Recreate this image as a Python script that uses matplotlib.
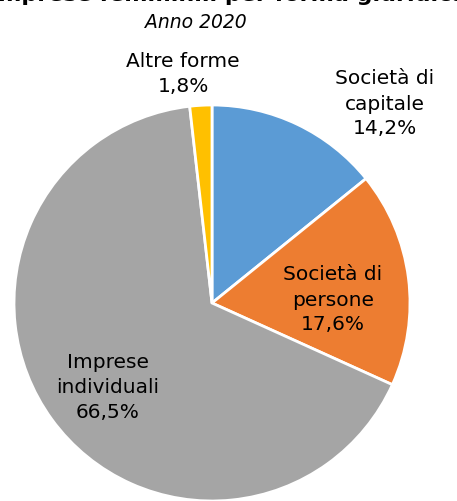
"""
Pie chart: imprese femminili per forma giuridica, anno 2020.
"""

import matplotlib.pyplot as plt

# Data
categorie = ["Società di\ncapitale", "Società di\npersone",
             "Imprese\nindividuali", "Altre forme"]
quote = [14.2, 17.6, 66.5, 1.8]
colori = ["#5B9BD5", "#ED7D31", "#A5A5A5", "#FFC000"]


def fmt(v):
    return f"{v:.1f}%".replace(".", ",")


def main():
    W, H = 457, 502
    fig = plt.figure(figsize=(W / 100, H / 100), dpi=100)
    ax = fig.add_axes([0, 0, 1, 1])

    # Pie (pixel space, y measured from bottom)
    ax.pie(quote, colors=colori, startangle=90, counterclock=False,
           center=(212, H - 304), radius=198, frame=True,
           wedgeprops=dict(edgecolor="white", linewidth=2))
    ax.set_xlim(0, W)
    ax.set_ylim(0, H)
    ax.set_aspect("equal")
    ax.axis("off")

    # Labels (text positions in pixels from top-left)
    pos = [(385, 104), (333, 300), (108, 388), (183, 74)]
    for (x, y), lab, v in zip(pos, categorie, quote):
        ax.text(x, H - y, f"{lab}\n{fmt(v)}", ha="center", va="center",
                fontsize=14.5, color="black", linespacing=1.4)

    # Title (cut off at top as in the original)
    ax.text(228, H + 5, "Imprese femminili per forma giuridica",
            ha="center", va="center", fontsize=16, fontweight="bold")
    ax.text(196, H - 22, "Anno 2020", ha="center", va="center",
            fontsize=13.5, style="italic")

    fig.savefig("out.png", dpi=100)


if __name__ == "__main__":
    main()
